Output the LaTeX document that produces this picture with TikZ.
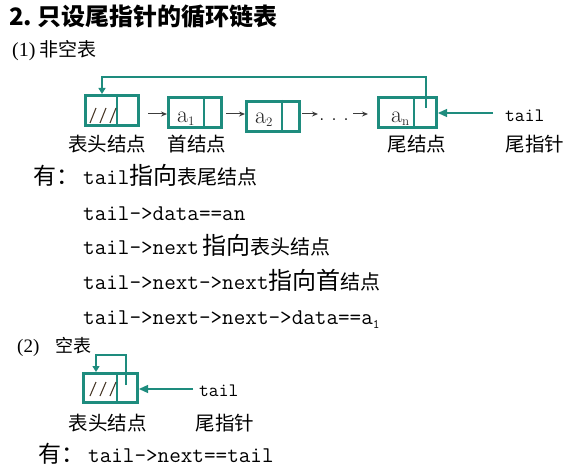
\documentclass[tikz,border=0pt]{standalone}
\usepackage{fontspec}
\usetikzlibrary{calc,arrows.meta}
\newfontfamily\cjk{Noto Sans CJK SC}
\newfontfamily\numfont{Liberation Serif}
\definecolor{tealline}{HTML}{1E8C7E}
\definecolor{linkgray}{HTML}{3C3C3C}
\definecolor{hatchcol}{HTML}{4A3A2A}
\newcommand{\cjkbig}[1]{{\cjk\fontsize{24}{24}\selectfont #1}}
\newcommand{\cjksmall}[1]{{\cjk\fontsize{20}{20}\selectfont #1}}

\begin{document}
\begin{tikzpicture}[x=1pt,y=-1pt,
  cell/.style={draw=tealline, line width=2.6pt, inner sep=0pt},
  divider/.style={draw=tealline, line width=1.1pt},
  hatchline/.style={draw=hatchcol, line width=1.1pt},
  link/.style={draw=linkgray, line width=1pt, -{Stealth[length=6pt,width=5pt]}},
  tailptr/.style={draw=tealline, line width=1.3pt, -{Triangle[length=9pt,width=8pt]}},
  loopptr/.style={draw=tealline, line width=1.3pt, -{Triangle[length=6pt,width=7pt]}},
  lbl/.style={inner sep=0pt, anchor=base, font=\cjk\fontsize{19.5}{20}\selectfont},
  code/.style={inner sep=0pt, anchor=base west, font=\ttfamily\fontsize{22.5}{23}\selectfont},
  ptrname/.style={inner sep=0pt, anchor=base west, font=\ttfamily\fontsize{19}{19}\selectfont},
  datum/.style={inner sep=0pt, anchor=base west, text=black!85, font=\fontsize{24}{24}\selectfont},
]
\useasboundingbox (0,0) rectangle (576,468);

% headings
\node[inner sep=0pt, anchor=base west] (title) at (9,26)
  {\cjk\bfseries\fontsize{24}{24}\selectfont 2.\hspace{5pt}只设尾指针的循环链表};
\node[inner sep=0pt, anchor=base west] (sub1) at (12,57)
  {\numfont\fontsize{20}{20}\selectfont (1)\hspace{4pt}{\cjk\fontsize{19}{19}\selectfont 非空表}};

% ---- non-empty list ----
\node[cell, minimum width=53.4pt, minimum height=30.4pt] (head) at (112,110.5) {};
\node[cell, minimum width=53.4pt, minimum height=30.4pt] (a1) at (195,112.5) {};
\node[cell, minimum width=53.4pt, minimum height=30.4pt] (a2) at (273,116.5) {};
\node[cell, minimum width=58.4pt, minimum height=30.4pt] (an) at (407.5,112.5) {};

\draw[divider] ($(head.north west)!0.589!(head.north east)$) -- ($(head.south west)!0.589!(head.south east)$);
\draw[divider] ($(a1.north west)!0.661!(a1.north east)$) -- ($(a1.south west)!0.661!(a1.south east)$);
\draw[divider] ($(a2.north west)!0.661!(a2.north east)$) -- ($(a2.south west)!0.661!(a2.south east)$);
\draw[divider] ($(an.north west)!0.607!(an.north east)$) -- ($(an.south west)!0.607!(an.south east)$);

\foreach \dx in {0,10,20}
  \draw[hatchline] ($(head.south west)+(6+\dx,-4)$) -- ++(6,-15);

\node[datum] (d1) at (177,123) {a\raisebox{-3pt}{\fontsize{13}{13}\selectfont 1}};
\node[datum] (d2) at (255,124) {a\raisebox{-3pt}{\fontsize{13}{13}\selectfont 2}};
\node[datum] (dn) at (391,123) {a\raisebox{-3pt}{\fontsize{13}{13}\selectfont n}};

\node[inner sep=0pt, anchor=base west, font=\fontsize{22}{22}\selectfont] (dots) at (319,121) {.\ .\ .};

\coordinate (row) at (0,114);
\draw[link, shorten <=8pt] (head.east |- row) -- (a1.west |- row);
\draw[link, shorten <=3pt] (a1.east |- row) -- (a2.west |- row);
\draw[link, shorten <=1pt, shorten >=1pt] (a2.east |- row) -- (dots.west |- row);
\draw[link, shorten <=4pt, shorten >=9pt] (dots.east |- row) -- (an.west |- row);

% back pointer from the last node to the head node
\coordinate (anp) at (426,108);
\draw[loopptr] (anp) -- ++(0,-31) -| ([xshift=-10pt]head.north);

% tail pointer
\node[ptrname] (tailA) at (505,122) {tail};
\coordinate (tailAend) at (493,113);
\draw[tailptr] (tailAend) -- (an.east |- tailAend);

\node[lbl] (lhead) at (107,152) {表头结点};
\node[lbl] (lfirst) at (197,152) {首结点};
\node[lbl] (llast) at (417,152) {尾结点};
\node[lbl] (lptr) at (535,152) {尾指针};

% ---- statements ----
\node[code] (y1) at (33,185) {\cjk\fontsize{23}{23}\selectfont 有：};
\node[code] (s1) at (83,185) {tail\cjkbig{指向}\cjksmall{表尾结点}};
\node[code] (s2) at (83,220) {tail->data==an};
\node[code] (s3) at (83,254) {tail->next\hspace{3pt}\cjkbig{指向}\cjksmall{表头结点}};
\node[code] (s4) at (83,289) {tail->next->next\cjkbig{指向首}\cjksmall{结点}};
\node[code] (s5) at (83,324) {tail->next->next->data==a\raisebox{-4pt}{\fontsize{13}{13}\selectfont 1}};

% ---- empty list ----
\node[inner sep=0pt, anchor=base west] (sub2) at (17,352)
  {\numfont\fontsize{19}{19}\selectfont (2)\hspace{16pt}{\cjk\fontsize{18}{18}\selectfont 空表}};

\node[cell, minimum width=54.4pt, minimum height=29.4pt] (e) at (110.5,388) {};
\draw[divider] ($(e.north west)!0.614!(e.north east)$) -- ($(e.south west)!0.614!(e.south east)$);
\foreach \dx in {0,10,20}
  \draw[hatchline] ($(e.south west)+(8+\dx,-8)$) -- ++(6,-14);

\coordinate (ep) at (126,385);
\draw[loopptr] (ep) -- ++(0,-30) -| ([xshift=-14.5pt]e.north);

\node[ptrname] (tailB) at (199,396) {tail};
\coordinate (tailBend) at (193,389);
\draw[tailptr] (tailBend) -- (e.east |- tailBend);

\node[lbl] (lhead2) at (107.5,430) {表头结点};
\node[lbl] (lptr2) at (225,430) {尾指针};

\node[code] (y2) at (38,462) {\cjk\fontsize{23}{23}\selectfont 有：};
\node[code] (s6) at (88,462) {tail->next==tail};
\end{tikzpicture}
\end{document}
